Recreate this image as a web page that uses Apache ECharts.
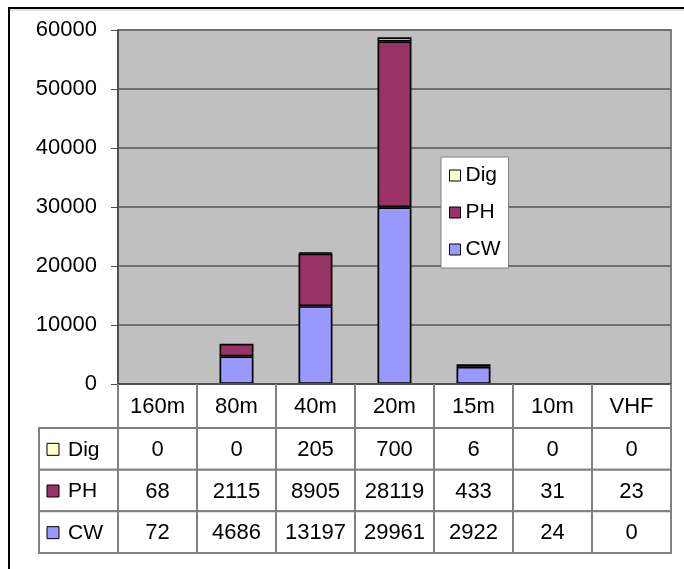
<!DOCTYPE html>
<html>
<head>
<meta charset="utf-8">
<script src="https://cdn.jsdelivr.net/npm/echarts@6/dist/echarts.min.js"></script>
<style>html,body{margin:0;padding:0;background:#fff;}#c{width:684px;height:569px;}</style>
</head>
<body>
<div id="c"></div>
<script>
const categories = ['160m', '80m', '40m', '20m', '15m', '10m', 'VHF'];
const digValues = [0, 0, 205, 700, 6, 0, 0];
const phValues = [68, 2115, 8905, 28119, 433, 31, 23];
const cwValues = [72, 4686, 13197, 29961, 2922, 24, 0];
const seriesNames = ['Dig', 'PH', 'CW'];
const seriesColors = {Dig: '#FFFFCC', PH: '#993366', CW: '#9999FF'};
const yMax = 60000;
const yStep = 10000;

const FONT = 'Liberation Sans, Arial, sans-serif';
const FS = 21;
const FSN = 22;
const PLOT_H = 354;

const rowValues = {Dig: digValues, PH: phValues, CW: cwValues};
const tableData = [];
seriesNames.forEach(function (name, r) {
  tableData.push([0, r, name]);
  categories.forEach(function (cat, i) {
    tableData.push([i + 1, r, String(rowValues[name][i])]);
  });
});

const chart = echarts.init(document.getElementById('c'), null, {renderer: 'canvas'});

function barSeries(name, data) {
  // segments thinner than one pixel get no outline (as in the reference)
  const items = data.map(function (v) {
    return {value: v, itemStyle: {borderWidth: (v / yMax * PLOT_H) < 1 ? 0 : 1.7}};
  });
  return {
    name: name, type: 'bar', stack: 'total', data: items,
    xAxisIndex: 0, yAxisIndex: 0,
    barWidth: '43%',
    itemStyle: {color: seriesColors[name], borderColor: '#000'},
    emphasis: {disabled: true}
  };
}

chart.setOption({
  animation: false,
  backgroundColor: '#fff',
  textStyle: {fontFamily: FONT},
  graphic: [{
    type: 'rect', silent: true,
    shape: {x: 9, y: 8, width: 720, height: 620},
    style: {fill: 'none', stroke: '#000', lineWidth: 2}
  }, {
    type: 'line', silent: true,
    shape: {x1: 10, y1: 10, x2: 684, y2: 10},
    style: {stroke: '#c8c8c8', lineWidth: 1}
  }],
  legend: {
    data: seriesNames,
    orient: 'vertical',
    left: 441, top: 157,
    padding: [8, 8, 8, 8],
    itemGap: 16,
    itemWidth: 11, itemHeight: 11,
    backgroundColor: '#fff',
    borderColor: '#808080', borderWidth: 1,
    selectedMode: false,
    icon: 'rect',
    itemStyle: {borderColor: '#000', borderWidth: 1},
    textStyle: {fontFamily: FONT, fontSize: FS, color: '#000'}
  },
  grid: [
    {left: 118, top: 30, width: 553, height: PLOT_H, show: true,
     backgroundColor: '#C0C0C0', borderColor: '#808080', borderWidth: 2},
    {left: 39, top: 428, width: 632, height: 125}
  ],
  xAxis: [
    {type: 'category', gridIndex: 0, data: categories, z: 5,
     axisLine: {show: true, lineStyle: {color: '#505050', width: 2}},
     axisTick: {show: true, length: 44, lineStyle: {color: '#808080', width: 2}},
     axisLabel: {fontFamily: FONT, fontSize: FSN, color: '#000', margin: 12}},
    {type: 'category', gridIndex: 1, data: [''].concat(categories), show: false}
  ],
  yAxis: [
    {type: 'value', gridIndex: 0, min: 0, max: yMax, interval: yStep,
     axisLine: {show: true, lineStyle: {color: '#505050', width: 2}},
     axisTick: {show: true, length: 7, lineStyle: {color: '#505050', width: 1}},
     axisLabel: {fontFamily: FONT, fontSize: FSN, color: '#000', margin: 21,
                 formatter: function (v) { return String(v); }},
     splitLine: {show: true, lineStyle: {color: '#707070', width: 2}}},
    {type: 'category', gridIndex: 1, data: seriesNames, inverse: true, show: false}
  ],
  series: [
    barSeries('CW', cwValues),
    barSeries('PH', phValues),
    barSeries('Dig', digValues),
    {
      type: 'custom', xAxisIndex: 1, yAxisIndex: 1, data: tableData,
      silent: true,
      renderItem: function (params, api) {
        const col = api.value(0), row = api.value(1);
        const item = tableData[params.dataIndex];
        const c = api.coord([col, row]);
        const s = api.size([1, 1]);
        const x = c[0] - s[0] / 2, y = c[1] - s[1] / 2;
        const children = [{
          type: 'rect',
          shape: {x: x, y: y, width: s[0], height: s[1]},
          style: {fill: '#fff', stroke: '#808080', lineWidth: 2}
        }];
        if (col === 0) {
          children.push({
            type: 'rect',
            shape: {x: x + 8, y: c[1] - 5.5, width: 12, height: 12},
            style: {fill: seriesColors[item[2]], stroke: '#000', lineWidth: 1}
          });
          children.push({
            type: 'text',
            style: {x: x + 29, y: c[1] + 1, text: item[2], fill: '#000',
                    font: FS + 'px ' + FONT, textAlign: 'left', textVerticalAlign: 'middle'}
          });
        } else {
          children.push({
            type: 'text',
            style: {x: c[0], y: c[1] + 1, text: item[2], fill: '#000',
                    font: FSN + 'px ' + FONT, textAlign: 'center', textVerticalAlign: 'middle'}
          });
        }
        return {type: 'group', children: children};
      }
    }
  ]
});
</script>
</body>
</html>
